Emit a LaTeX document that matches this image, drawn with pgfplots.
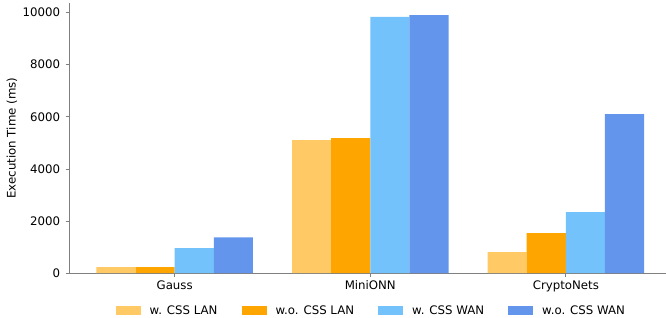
\documentclass[border=0pt]{standalone}
\usepackage{pgfplots}
\pgfplotsset{compat=1.18}
\usepackage{fontspec}
\setmainfont{DejaVu Sans}

\definecolor{wlan}{HTML}{FFC966}
\definecolor{wolan}{HTML}{FFA500}
\definecolor{wwan}{HTML}{73C2FB}
\definecolor{wowan}{HTML}{6495ED}
\definecolor{spine}{HTML}{808080}

\begin{document}
\begin{tikzpicture}
\begin{axis}[
    scale only axis,
    width=596bp, height=270bp,
    ybar,
    bar width=0.2,
    xmin=-0.54, xmax=2.51,
    ymin=0, ymax=10365,
    xtick={0,1,2},
    xticklabels={Gauss, MiniONN, CryptoNets},
    ytick={0,2000,4000,6000,8000,10000},
    scaled y ticks=false,
    /pgf/number format/1000 sep={},
    /pgf/number format/assume math mode=true,
    tick label style={font=\fontsize{11.8}{14}\selectfont},
    label style={font=\fontsize{11.8}{14}\selectfont},
    yticklabel style={xshift=-2bp},
    ylabel={Execution Time (ms)},
    ylabel style={yshift=-1.5bp},
    axis x line*=bottom,
    axis y line*=left,
    axis line style={spine, line width=0.8pt},
    tick style={spine, line width=0.8pt},
    major tick length=3.5bp,
    tick align=outside,
    xtick pos=bottom, ytick pos=left,
    legend columns=4,
    legend style={
        draw=none, fill=none, inner sep=0bp,
        at={(0.5,-0.112)}, anchor=north, xshift=4bp,
        font=\fontsize{11.8}{14}\selectfont,
        /tikz/every odd column/.append style={column sep=7bp},
        /tikz/every even column/.append style={column sep=22bp},
    },
    legend image code/.code={\fill[#1,draw=none] (0bp,-4.5bp) rectangle (25bp,4.5bp);},
]
\addplot[fill=wlan, draw=none, bar shift=-0.3] coordinates {(0,230) (1,5105) (2,806)};
\addplot[fill=wolan, draw=none, bar shift=-0.1] coordinates {(0,230) (1,5180) (2,1535)};
\addplot[fill=wwan, draw=none, bar shift=0.1] coordinates {(0,960) (1,9830) (2,2340)};
\addplot[fill=wowan, draw=none, bar shift=0.3] coordinates {(0,1380) (1,9900) (2,6100)};
\legend{w. CSS LAN, w.o. CSS LAN, w. CSS WAN, w.o. CSS WAN}
\end{axis}
% white margins left of the y label and above the plot
\path (current axis.west) ++(-69bp,0);
\path (current axis.north) ++(0,3bp);
\end{tikzpicture}
\end{document}
